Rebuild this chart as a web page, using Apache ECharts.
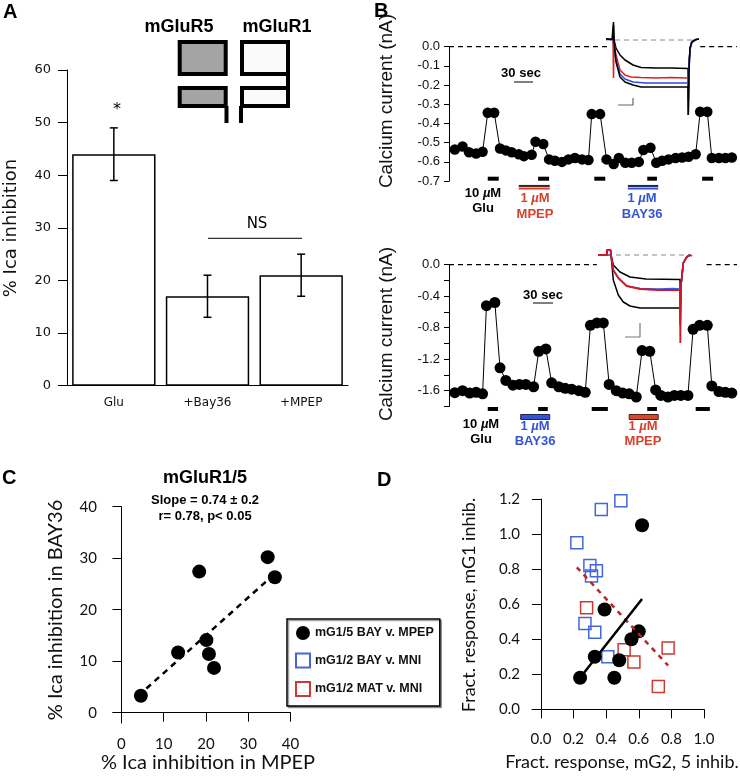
<!DOCTYPE html>
<html>
<head>
<meta charset="utf-8">
<script src="https://cdn.jsdelivr.net/npm/echarts@6.0.0/dist/echarts.min.js"></script>
<style>
html,body{margin:0;padding:0;background:#fff;}
#chart{width:740px;height:776px;}
</style>
</head>
<body>
<div id="chart"></div>
<script>
// ---------- Panel A ----------
const aCategories = ['Glu', '+Bay36', '+MPEP'];
const aMeans = [44, 17, 21];
const aSem = [5, 4, 4];

// ---------- Panel B top (seconds, nA) ----------
const bTopTime = [9,21,31,42,52,60,70,79,88,97,108,116,128,134,146,155,164,175,185,195,206,216,221,234,244,255,263,273,283,294,301,312,321,330,340,351,361,371,382,389,400,407,418,428,438];
const bTopCurrent = [-0.535,-0.52,-0.55,-0.556,-0.547,-0.344,-0.344,-0.53,-0.54,-0.55,-0.56,-0.57,-0.563,-0.495,-0.507,-0.587,-0.594,-0.6,-0.587,-0.58,-0.587,-0.59,-0.351,-0.351,-0.587,-0.611,-0.58,-0.604,-0.604,-0.6,-0.538,-0.526,-0.604,-0.594,-0.587,-0.58,-0.577,-0.573,-0.56,-0.339,-0.339,-0.58,-0.58,-0.58,-0.577];
const bTopGluPulses = [[60,77],[138,155],[225,242],[307,322],[392,409]];
const bTopMpepApp = [[108,156]];
const bTopBayApp = [[277,324]];
// top inset traces [time, current] (arbitrary units)
const insTopBlackA = [[0,0.01],[6,0.005],[7.5,0.18],[8,0],[10,-0.08],[14,-0.15],[19,-0.2],[27,-0.25],[35,-0.275],[50,-0.28],[65,-0.28],[82,-0.285],[82.3,-0.75],[83,-0.3],[84,-0.08],[86,-0.02],[90,0.005],[93,0.01]];
const insTopRed = [[0,0.01],[7,0.005],[7.5,-0.38],[8,-0.02],[10,-0.15],[14,-0.3],[19,-0.35],[25,-0.37],[35,-0.375],[50,-0.38],[65,-0.375],[82,-0.38],[82.3,-0.6],[83,-0.2],[85,-0.03],[88,0]];
const insTopBlue = [[0,0.01],[7,0.005],[8,0],[10,-0.2],[14,-0.34],[19,-0.39],[27,-0.42],[40,-0.43],[60,-0.43],[82,-0.43],[82.3,-0.6],[83,-0.2],[85,-0.03],[88,0]];
const insTopBlackB = [[0,0.01],[7,0.005],[7.5,0.15],[8,0],[10,-0.22],[14,-0.37],[19,-0.42],[27,-0.45],[35,-0.47],[60,-0.47],[82,-0.47],[82.3,-0.75],[83,-0.3],[84,-0.08],[86,-0.02],[90,0.005],[93,0.01]];
const insTopScale = [[12,-0.65],[27,-0.65],[27,-0.58]];

// ---------- Panel B bottom ----------
const bBotTime = [9,21,32,42,52,58,71,79,88,99,109,119,131,139,150,159,170,180,190,201,211,219,229,239,248,259,269,279,290,299,311,320,328,339,349,359,370,378,388,400,407,418,428,438];
const bBotCurrent = [-1.625,-1.60,-1.63,-1.62,-1.64,-0.52,-0.48,-1.31,-1.47,-1.53,-1.52,-1.52,-1.55,-1.10,-1.07,-1.50,-1.55,-1.57,-1.58,-1.60,-1.62,-0.77,-0.74,-0.74,-1.52,-1.60,-1.63,-1.64,-1.68,-1.09,-1.10,-1.59,-1.66,-1.68,-1.66,-1.66,-1.66,-0.82,-0.77,-0.77,-1.54,-1.61,-1.62,-1.63];
const bBotGluPulses = [[60,76],[138,153],[221,246],[307,322],[382,404]];
const bBotBayApp = [[111,156]];
const bBotMpepApp = [[279,324]];
const insBotBlackA = [[0,0],[9,0],[9,0.05],[12.5,0.05],[13,0],[15.3,-0.1],[22,-0.17],[32,-0.22],[48,-0.24],[82,-0.245],[82.3,-0.5],[83,-0.3],[85.3,-0.08],[88.7,-0.02],[92,0]];
const insBotBlackB = [[0,0],[9,0],[9,0.05],[12.5,0.05],[13,0],[15.3,-0.25],[20.3,-0.4],[25.3,-0.47],[32,-0.51],[42,-0.53],[82,-0.53],[82.3,-0.7],[83,-0.3],[85.3,-0.08],[88.7,-0.02],[92,0]];
const insBotBlue = [[0,0],[9,0],[13,0],[15.3,-0.15],[20.3,-0.23],[28.7,-0.31],[42,-0.335],[60,-0.34],[75,-0.335],[82,-0.34],[82.3,-0.6],[83,-0.3],[85.3,-0.08],[88.7,-0.02],[92,0]];
const insBotRed = [[0,0],[9,0],[9,0.05],[12.5,0.05],[13,0],[15.3,-0.15],[20.3,-0.23],[28.7,-0.31],[42,-0.34],[60,-0.35],[82,-0.35],[82.3,-0.88],[83,-0.3],[85.3,-0.08],[88.7,-0.02],[92,0.0],[94,-0.01]];
const insBotScale = [[27,-0.82],[42,-0.82],[42,-0.68]];

// ---------- Panel C ----------
const cMpep = [4.6, 13.4, 18.4, 20.1, 20.7, 21.9, 34.6, 36.3];
const cBay = [3.3, 11.7, 27.4, 14.1, 11.4, 8.7, 30.2, 26.3];
const cFitX = [5.9, 35.5];
const cFitY = [4.7, 26.4];
const cTicks = [0, 10, 20, 30, 40];

// ---------- Panel D ----------
const dNames = ['mG1/5 BAY v. MPEP', 'mG1/2 BAY v. MNI', 'mG1/2 MAT v. MNI'];
const dBayMpepX = [0.24, 0.33, 0.39, 0.45, 0.48, 0.555, 0.60, 0.62];
const dBayMpepY = [0.18, 0.30, 0.57, 0.18, 0.28, 0.40, 0.445, 1.05];
const dBayMniX = [0.22, 0.37, 0.49, 0.30, 0.34, 0.31, 0.27, 0.33, 0.41];
const dBayMniY = [0.95, 1.14, 1.19, 0.82, 0.79, 0.76, 0.49, 0.44, 0.30];
const dMatMniX = [0.28, 0.51, 0.57, 0.72, 0.78];
const dMatMniY = [0.58, 0.34, 0.27, 0.13, 0.35];
const dFitBlackX = [0.24, 0.62], dFitBlackY = [0.18, 0.63];
const dFitRedX = [0.22, 0.78], dFitRedY = [0.81, 0.25];
const dTicksX = [0, 0.2, 0.4, 0.6, 0.8, 1.0];
const dTicksY = [0, 0.2, 0.4, 0.6, 0.8, 1.0, 1.2];

// ---------- helpers ----------
const FB = '"Liberation Sans", Arial, sans-serif';
const FA = '"DejaVu Sans", sans-serif';
const FC = 'Lato, "Open Sans", sans-serif';
const RED = '#d8402c', BLUE = '#3553d4';
const zip = (a, b) => a.map((v, i) => [v, b[i]]);

function pulseRender(yVal, h, fill, stroke) {
  return (params, api) => {
    const a = api.coord([api.value(0), yVal]);
    const b = api.coord([api.value(1), yVal]);
    return {type: 'rect', shape: {x: a[0], y: a[1] - h / 2, width: b[0] - a[0], height: h},
      style: {fill: fill, stroke: stroke || null, lineWidth: stroke ? 1 : 0}};
  };
}
function doubleRender(yVal, c1, c2) {
  return (params, api) => {
    const a = api.coord([api.value(0), yVal]);
    const b = api.coord([api.value(1), yVal]);
    return {type: 'group', children: [
      {type: 'rect', shape: {x: a[0], y: a[1], width: b[0] - a[0], height: 2}, style: {fill: c1}},
      {type: 'rect', shape: {x: a[0], y: a[1] + 2.6, width: b[0] - a[0], height: 2}, style: {fill: c2}}
    ]};
  };
}
function traceSeries(xi, data, color, w, z) {
  return {type: 'line', xAxisIndex: xi, yAxisIndex: xi, data: data, showSymbol: false, symbol: 'none',
    lineStyle: {color: color, width: w || 1.4}, z: z || 3, silent: true};
}
function txt(text, x, y, st, rot) {
  const el = {type: 'text', x: x, y: y, z: 50,
    style: Object.assign({text: text, fill: '#000', align: 'center', verticalAlign: 'middle',
      fontFamily: FB, fontSize: 12}, st || {})};
  if (rot) el.rotation = rot;
  return el;
}
const umRich = (color) => ({i: {fontStyle: 'italic', fontWeight: 'bold', fontSize: 13, fontFamily: FB, fill: color}});

const chart = echarts.init(document.getElementById('chart'));

const option = {
  animation: false,
  backgroundColor: '#fff',
  textStyle: {fontFamily: FB},
  grid: [
    {left: 67, top: 70, width: 281, height: 315.7},          // A
    {left: 449, top: 46.7, width: 288, height: 134.4},       // B top
    {left: 606, top: 20, width: 94, height: 100},            // B top inset
    {left: 449, top: 264.7, width: 288, height: 141.75},     // B bottom
    {left: 598, top: 235, width: 96, height: 110},           // B bottom inset
    {left: 113, top: 506.7, width: 177.5, height: 216.3},    // C
    {left: 532, top: 499, width: 172, height: 218.4}         // D
  ],
  xAxis: [
    {gridIndex: 0, type: 'category', data: aCategories,
      axisLine: {lineStyle: {color: '#000', width: 1}},
      axisTick: {length: 10, lineStyle: {color: '#000', width: 1}},
      axisLabel: {fontFamily: FA, fontSize: 12, color: '#111', margin: 11}},
    {gridIndex: 1, type: 'value', min: 0, max: 446, show: false},
    {gridIndex: 2, type: 'value', min: 0, max: 94, show: false},
    {gridIndex: 3, type: 'value', min: 0, max: 446, show: false},
    {gridIndex: 4, type: 'value', min: 0, max: 96, show: false},
    {gridIndex: 5, type: 'value', min: -2, max: 40,
      axisLine: {lineStyle: {color: '#000', width: 1}},
      axisTick: {length: 9, lineStyle: {color: '#000'}, customValues: cTicks},
      axisLabel: {fontFamily: FC, fontSize: 15, color: '#111', margin: 14, customValues: cTicks},
      splitLine: {show: false}},
    {gridIndex: 6, type: 'value', min: -0.055, max: 1.0,
      axisLine: {lineStyle: {color: '#000', width: 1}},
      axisTick: {length: 9, lineStyle: {color: '#000'}, customValues: dTicksX},
      axisLabel: {fontFamily: FC, fontSize: 15, color: '#111', margin: 14, customValues: dTicksX,
        formatter: v => v.toFixed(1)},
      splitLine: {show: false}}
  ],
  yAxis: [
    {gridIndex: 0, type: 'value', min: 0, max: 60, interval: 10,
      axisLine: {show: true, lineStyle: {color: '#000', width: 1}},
      axisTick: {show: true, length: 9, lineStyle: {color: '#000'}},
      axisLabel: {fontFamily: FA, fontSize: 13, color: '#111', margin: 16},
      splitLine: {show: false}},
    {gridIndex: 1, type: 'value', min: -0.7, max: 0, interval: 0.1,
      axisLine: {show: true, lineStyle: {color: '#000', width: 1}},
      axisTick: {show: true, length: 5, lineStyle: {color: '#000'}},
      axisLabel: {fontFamily: FB, fontSize: 13, color: '#111', margin: 9, formatter: v => v.toFixed(1)},
      splitLine: {show: false}},
    {gridIndex: 2, type: 'value', min: -0.8, max: 0.2, show: false},
    {gridIndex: 3, type: 'value', min: -1.8, max: 0, interval: 0.2,
      axisLine: {show: true, lineStyle: {color: '#000', width: 1}},
      axisTick: {show: true, length: 5, lineStyle: {color: '#000'}},
      axisLabel: {fontFamily: FB, fontSize: 13, color: '#111', margin: 9,
        formatter: v => (Math.abs(Math.round(v * 10)) % 4 === 0 ? v.toFixed(1) : '')},
      splitLine: {show: false}},
    {gridIndex: 4, type: 'value', min: -0.9, max: 0.2, show: false},
    {gridIndex: 5, type: 'value', min: -2, max: 40,
      axisLine: {show: true, lineStyle: {color: '#000', width: 1}},
      axisTick: {show: true, length: 9, lineStyle: {color: '#000'}, customValues: cTicks},
      axisLabel: {fontFamily: FC, fontSize: 15, color: '#111', margin: 16, customValues: cTicks},
      splitLine: {show: false}},
    {gridIndex: 6, type: 'value', min: -0.046, max: 1.2,
      axisLine: {show: true, lineStyle: {color: '#000', width: 1}},
      axisTick: {show: true, length: 9, lineStyle: {color: '#000'}, customValues: dTicksY},
      axisLabel: {fontFamily: FC, fontSize: 15, color: '#111', margin: 12, customValues: dTicksY,
        formatter: v => v.toFixed(1)},
      splitLine: {show: false}}
  ],
  legend: {
    left: 287, top: 619, orient: 'vertical',
    data: dNames,
    itemWidth: 14, itemHeight: 14, itemGap: 12.5,
    padding: [7, 6, 9, 8],
    borderColor: '#000', borderWidth: 1.5,
    shadowColor: 'rgba(0,0,0,0.35)', shadowOffsetX: 1.5, shadowOffsetY: 1.5, shadowBlur: 0,
    backgroundColor: '#fff',
    textStyle: {fontFamily: FB, fontWeight: 'bold', fontSize: 12.5, color: '#111'},
    selectedMode: false
  },
  series: [
    // A bars
    {type: 'bar', xAxisIndex: 0, yAxisIndex: 0, data: aMeans, barWidth: '89%',
      itemStyle: {color: '#fff', borderColor: '#000', borderWidth: 1.5}, silent: true},
    // A error bars
    {type: 'custom', xAxisIndex: 0, yAxisIndex: 0, z: 5,
      data: aMeans.map((m, i) => [i, m - aSem[i], m + aSem[i]]),
      encode: {x: 0, y: [1, 2]},
      renderItem: (params, api) => {
        const x = api.value(0);
        const lo = api.coord([x, api.value(1)]);
        const hi = api.coord([x, api.value(2)]);
        const cw = 4, st = {stroke: '#000', lineWidth: 1.5};
        return {type: 'group', children: [
          {type: 'line', shape: {x1: lo[0], y1: lo[1], x2: hi[0], y2: hi[1]}, style: st},
          {type: 'line', shape: {x1: lo[0] - cw, y1: lo[1], x2: lo[0] + cw, y2: lo[1]}, style: st},
          {type: 'line', shape: {x1: hi[0] - cw, y1: hi[1], x2: hi[0] + cw, y2: hi[1]}, style: st}
        ]};
      }},
    // B top: zero dashed line (interrupted by inset)
    {type: 'line', xAxisIndex: 1, yAxisIndex: 1, data: [[0, 0], [245, 0]], symbol: 'none',
      lineStyle: {color: '#000', width: 1.2, type: [5, 4]}, silent: true},
    {type: 'line', xAxisIndex: 1, yAxisIndex: 1, data: [[389, 0], [446, 0]], symbol: 'none',
      lineStyle: {color: '#000', width: 1.2, type: [5, 4]}, silent: true},
    // B top time course
    {type: 'line', xAxisIndex: 1, yAxisIndex: 1, data: zip(bTopTime, bTopCurrent),
      symbol: 'circle', symbolSize: 10.5, showAllSymbol: true,
      itemStyle: {color: '#000', opacity: 1}, lineStyle: {color: '#000', width: 1}, z: 4, silent: true},
    {type: 'custom', xAxisIndex: 1, yAxisIndex: 1, data: bTopGluPulses, encode: {x: [0, 1]},
      renderItem: pulseRender(-0.6875, 4, '#000'), clip: false},
    {type: 'custom', xAxisIndex: 1, yAxisIndex: 1, data: bTopMpepApp, encode: {x: [0, 1]},
      renderItem: doubleRender(-0.72, '#4a1d14', RED), clip: false},
    {type: 'custom', xAxisIndex: 1, yAxisIndex: 1, data: bTopBayApp, encode: {x: [0, 1]},
      renderItem: doubleRender(-0.72, '#1c2460', BLUE), clip: false},
    // B top inset
    {type: 'line', xAxisIndex: 2, yAxisIndex: 2, data: [[0, 0], [91, 0]], symbol: 'none',
      lineStyle: {color: '#888', width: 1, type: [5, 4]}, silent: true},
    traceSeries(2, insTopBlackA, '#000', 1.5, 3),
    traceSeries(2, insTopRed, '#e0201a', 1.5, 3),
    traceSeries(2, insTopBlue, '#2a4ee0', 1.5, 3),
    traceSeries(2, insTopBlackB, '#000', 1.5, 3),
    traceSeries(2, insTopScale, '#666', 1.2, 3),
    // B bottom zero line
    {type: 'line', xAxisIndex: 3, yAxisIndex: 3, data: [[0, 0], [229, 0]], symbol: 'none',
      lineStyle: {color: '#000', width: 1.2, type: [5, 4]}, silent: true},
    {type: 'line', xAxisIndex: 3, yAxisIndex: 3, data: [[399, 0], [446, 0]], symbol: 'none',
      lineStyle: {color: '#000', width: 1.2, type: [5, 4]}, silent: true},
    {type: 'line', xAxisIndex: 3, yAxisIndex: 3, data: zip(bBotTime, bBotCurrent),
      symbol: 'circle', symbolSize: 11, showAllSymbol: true,
      itemStyle: {color: '#000', opacity: 1}, lineStyle: {color: '#000', width: 1}, z: 4, silent: true},
    {type: 'custom', xAxisIndex: 3, yAxisIndex: 3, data: bBotGluPulses, encode: {x: [0, 1]},
      renderItem: pulseRender(-1.832, 4, '#000'), clip: false},
    {type: 'custom', xAxisIndex: 3, yAxisIndex: 3, data: bBotBayApp, encode: {x: [0, 1]},
      renderItem: pulseRender(-1.934, 5, BLUE, '#1c2460'), clip: false},
    {type: 'custom', xAxisIndex: 3, yAxisIndex: 3, data: bBotMpepApp, encode: {x: [0, 1]},
      renderItem: pulseRender(-1.934, 5, '#d24a30', '#5a1d10'), clip: false},
    // B bottom inset
    {type: 'line', xAxisIndex: 4, yAxisIndex: 4, data: [[0, 0], [92, 0]], symbol: 'none',
      lineStyle: {color: '#888', width: 1, type: [5, 4]}, silent: true},
    traceSeries(4, insBotBlackA, '#000', 1.5, 3),
    traceSeries(4, insBotBlackB, '#000', 1.5, 3),
    traceSeries(4, insBotBlue, '#3a5ae8', 1.5, 3),
    traceSeries(4, insBotRed, '#d0182a', 1.8, 3),
    traceSeries(4, insBotScale, '#777', 1.2, 3),
    // C
    {type: 'line', xAxisIndex: 5, yAxisIndex: 5, data: zip(cFitX, cFitY), symbol: 'none',
      lineStyle: {color: '#000', width: 2.5, type: [6, 5]}, silent: true},
    {type: 'scatter', xAxisIndex: 5, yAxisIndex: 5, data: zip(cMpep, cBay),
      symbol: 'circle', symbolSize: 14, itemStyle: {color: '#000', opacity: 1}, silent: true},
    // D
    {type: 'line', xAxisIndex: 6, yAxisIndex: 6, data: zip(dFitRedX, dFitRedY), symbol: 'none',
      lineStyle: {color: '#b8262a', width: 2.5, type: [5, 5]}, silent: true},
    {type: 'line', xAxisIndex: 6, yAxisIndex: 6, data: zip(dFitBlackX, dFitBlackY), symbol: 'none',
      lineStyle: {color: '#000', width: 2.5}, silent: true},
    {name: dNames[1], type: 'scatter', xAxisIndex: 6, yAxisIndex: 6, data: zip(dBayMniX, dBayMniY),
      symbol: 'rect', symbolSize: 12,
      itemStyle: {color: 'rgba(255,255,255,0)', borderColor: '#4466dd', borderWidth: 1.5, opacity: 1}, silent: true},
    {name: dNames[2], type: 'scatter', xAxisIndex: 6, yAxisIndex: 6, data: zip(dMatMniX, dMatMniY),
      symbol: 'rect', symbolSize: 12,
      itemStyle: {color: 'rgba(255,255,255,0)', borderColor: '#cc3a32', borderWidth: 1.5, opacity: 1}, silent: true},
    {name: dNames[0], type: 'scatter', xAxisIndex: 6, yAxisIndex: 6, data: zip(dBayMpepX, dBayMpepY),
      symbol: 'circle', symbolSize: 14, itemStyle: {color: '#000', opacity: 1}, silent: true}
  ],
  graphic: [
    // panel letters
    txt('A', 3, 2, {align: 'left', verticalAlign: 'top', fontSize: 20, fontWeight: 'bold'}),
    txt('B', 374, 1, {align: 'left', verticalAlign: 'top', fontSize: 20, fontWeight: 'bold'}),
    txt('C', 2, 468, {align: 'left', verticalAlign: 'top', fontSize: 20, fontWeight: 'bold'}),
    txt('D', 377, 470, {align: 'left', verticalAlign: 'top', fontSize: 20, fontWeight: 'bold'}),
    // A receptor glyph
    txt('mGluR5', 179, 27, {fontSize: 18, fontWeight: 'bold'}),
    txt('mGluR1', 277, 27, {fontSize: 18, fontWeight: 'bold'}),
    {type: 'rect', shape: {x: 179.7, y: 42, width: 46, height: 32}, style: {fill: '#a4a4a4', stroke: '#000', lineWidth: 4}},
    {type: 'rect', shape: {x: 179.7, y: 88, width: 46, height: 18}, style: {fill: '#a4a4a4', stroke: '#000', lineWidth: 4}},
    {type: 'rect', shape: {x: 242, y: 42, width: 46, height: 32}, style: {fill: '#fafafa', stroke: '#000', lineWidth: 4}},
    {type: 'rect', shape: {x: 242, y: 88, width: 46, height: 18}, style: {fill: '#fafafa', stroke: '#000', lineWidth: 4}},
    {type: 'line', shape: {x1: 288, y1: 72, x2: 288, y2: 90}, style: {stroke: '#000', lineWidth: 4}},
    {type: 'line', shape: {x1: 226.5, y1: 106, x2: 226.5, y2: 123}, style: {stroke: '#000', lineWidth: 4}},
    {type: 'line', shape: {x1: 241, y1: 106, x2: 241, y2: 123}, style: {stroke: '#000', lineWidth: 4}},
    // A annotations
    txt('*', 117, 110, {fontFamily: FA, fontSize: 16}),
    txt('NS', 257, 224, {fontFamily: FA, fontSize: 15}),
    {type: 'line', shape: {x1: 208, y1: 238.3, x2: 302, y2: 238.3}, style: {stroke: '#000', lineWidth: 1}},
    txt('% Ica inhibition', 11, 228, {fontFamily: FA, fontSize: 18, fill: '#111'}, Math.PI / 2),
    // B labels
    txt('Calcium current (nA)', 387, 101, {fontSize: 19, fill: '#111'}, Math.PI / 2),
    txt('Calcium current (nA)', 387, 334, {fontSize: 19, fill: '#111'}, Math.PI / 2),
    txt('30 sec', 521, 73, {fontSize: 13, fontWeight: 'bold'}),
    {type: 'line', shape: {x1: 514, y1: 82, x2: 533, y2: 82}, style: {stroke: '#000', lineWidth: 1}},
    txt('30 sec', 543, 295, {fontSize: 13, fontWeight: 'bold'}),
    {type: 'line', shape: {x1: 533, y1: 303, x2: 553, y2: 303}, style: {stroke: '#000', lineWidth: 1}},
    txt('10 {i|µ}M', 483, 193, {fontSize: 13, fontWeight: 'bold', rich: umRich('#000')}),
    txt('Glu', 483, 208, {fontSize: 13, fontWeight: 'bold'}),
    txt('1 {i|µ}M', 535, 198, {fontSize: 13, fontWeight: 'bold', fill: RED, rich: umRich(RED)}),
    txt('MPEP', 535, 214, {fontSize: 13, fontWeight: 'bold', fill: RED}),
    txt('1 {i|µ}M', 642, 198, {fontSize: 13, fontWeight: 'bold', fill: BLUE, rich: umRich(BLUE)}),
    txt('BAY36', 642, 214, {fontSize: 13, fontWeight: 'bold', fill: BLUE}),
    txt('10 {i|µ}M', 481, 424, {fontSize: 13, fontWeight: 'bold', rich: umRich('#000')}),
    txt('Glu', 481, 439, {fontSize: 13, fontWeight: 'bold'}),
    txt('1 {i|µ}M', 535, 426, {fontSize: 13, fontWeight: 'bold', fill: BLUE, rich: umRich(BLUE)}),
    txt('BAY36', 535, 441, {fontSize: 13, fontWeight: 'bold', fill: BLUE}),
    txt('1 {i|µ}M', 643, 426, {fontSize: 13, fontWeight: 'bold', fill: RED, rich: umRich(RED)}),
    txt('MPEP', 643, 441, {fontSize: 13, fontWeight: 'bold', fill: RED}),
    // C labels
    txt('mGluR1/5', 205, 478, {fontSize: 18, fontWeight: 'bold'}),
    txt('Slope = 0.74 ± 0.2', 205, 500, {fontSize: 13, fontWeight: 'bold'}),
    txt('r= 0.78, p< 0.05', 205, 516, {fontSize: 13, fontWeight: 'bold'}),
    txt('% Ica inhibition in MPEP', 208, 763, {fontFamily: FC, fontSize: 20, fill: '#111'}),
    txt('% Ica inhibition in BAY36', 56, 610, {fontFamily: FC, fontSize: 20, fill: '#111'}, Math.PI / 2),
    // D labels
    txt('Fract. response, mG2, 5 inhib.', 622, 762, {fontFamily: FC, fontSize: 18, fill: '#111'}),
    txt('Fract. response, mG1 inhib.', 469, 605, {fontFamily: FC, fontSize: 18, fill: '#111'}, Math.PI / 2)
  ]
};
chart.setOption(option);
</script>
</body>
</html>
